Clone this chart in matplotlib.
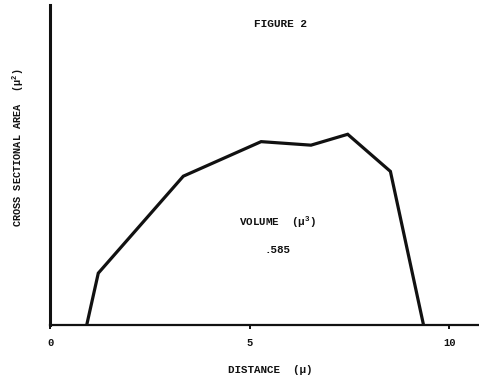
import matplotlib
matplotlib.use("Agg")
import matplotlib.pyplot as plt

# Cross-sectional area profile along the distance axis
distance = [0.92, 1.21, 3.34, 5.29, 6.54, 7.46, 8.53, 9.36]
area = [0.0, 1.62, 4.65, 5.73, 5.62, 5.96, 4.80, 0.0]
x_ticks = [0, 5, 10]
x_tick_labels = ["0", "5", "10"]
volume_text = ".585"

mono = "Liberation Mono"
ink = "#111111"

# typewriter-style digits for the unit exponents
plt.rcParams["mathtext.fontset"] = "custom"
plt.rcParams["mathtext.rm"] = "Liberation Mono:bold"
plt.rcParams["mathtext.it"] = "Liberation Mono:bold"
plt.rcParams["mathtext.bf"] = "Liberation Mono:bold"

fig = plt.figure(figsize=(4.79, 3.78), dpi=100)
fig.patch.set_facecolor("white")
ax = fig.add_axes([50 / 479, 1 - 325 / 378, 429 / 479, 320 / 378])

ax.plot(distance, area, color=ink, lw=2.3, solid_joinstyle="miter",
        solid_capstyle="butt", clip_on=False)

ax.set_xlim(0, 10.75)
ax.set_ylim(0, 10)

for side in ("top", "right"):
    ax.spines[side].set_visible(False)
ax.spines["left"].set_linewidth(2.2)
ax.spines["bottom"].set_linewidth(1.6)
ax.spines["left"].set_color(ink)
ax.spines["bottom"].set_color(ink)

ax.set_xticks(x_ticks)
ax.set_xticklabels(x_tick_labels, fontfamily=mono, fontsize=7.5,
                   fontweight="bold", color=ink)
ax.tick_params(axis="x", direction="out", length=3, width=1.4, pad=6,
               color=ink)
ax.set_yticks([])

text_kw = dict(fontfamily=mono, fontweight="bold", color=ink)

fig.text(270 / 479, 1 - 370 / 378, "DISTANCE  (\u03bc)", fontsize=7.8,
         ha="center", va="center", **text_kw)

fig.text(18 / 479, 1 - 148 / 378, "CROSS SECTIONAL AREA  (\u03bc$^{2}$)",
         fontsize=7.4, rotation=90, ha="center", va="center", **text_kw)

fig.text(280 / 479, 1 - 24 / 378, "FIGURE 2", fontsize=8,
         ha="center", va="center", **text_kw)

ax.text(4.74, 3.2, "VOLUME  (\u03bc$^{3}$)", fontsize=7.8,
        ha="left", va="center", **text_kw)
ax.text(5.69, 2.34, volume_text, fontsize=7.8,
        ha="center", va="center", **text_kw)

fig.savefig("out.png", dpi=100, facecolor="white")
